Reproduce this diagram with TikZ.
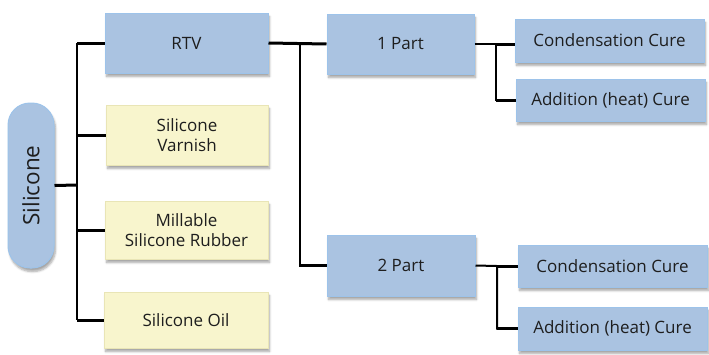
\documentclass[tikz,border=0pt]{standalone}
\usepackage{fontspec}
\setmainfont{Open Sans}
\usepackage{tikz}
\usetikzlibrary{positioning, calc, shadows, shadows.blur}
\definecolor{boxblue}{HTML}{AAC3E1}
\definecolor{edgeblue}{HTML}{9DC3EA}
\definecolor{boxyellow}{HTML}{F8F5CD}
\definecolor{edgeyellow}{HTML}{E9E5B6}
\definecolor{textgrey}{HTML}{1E1E1E}
\tikzset{
    bluebox/.style={rectangle, draw=edgeblue, line width=1pt, fill=boxblue, text=textgrey, inner sep=0pt, align=center, font=\fontsize{17}{20.5}\selectfont, blur shadow={shadow xshift=1.5pt, shadow yshift=-3.5pt, shadow opacity=35, shadow blur steps=6}},
    yellowbox/.style={bluebox, draw=edgeyellow, fill=boxyellow},
    pill/.style={bluebox, rounded corners=22pt, font=\fontsize{22.5}{26}\selectfont},
    stub/.style={line width=3pt, black},
    trunk/.style={line width=2pt, black}
}
\begin{document}
\begin{tikzpicture}[x=1pt, y=-1pt]
        \useasboundingbox (0,0) rectangle (709,354);
        % Root
        \node (silicone) [pill, minimum width=165pt, minimum height=46pt, rotate=90] at (31, 185.5) {Silicone};
        
        % First level
        \node (rtv) [bluebox, minimum width=163pt, minimum height=60pt] at (186.5, 43) {RTV};
        \node (varnish) [yellowbox, minimum width=162pt, minimum height=60pt] at (187, 135) {Silicone\\Varnish};
        \node (rubber) [yellowbox, minimum width=163pt, minimum height=58pt] at (186.5, 230) {Millable\\Silicone Rubber};
        \node (oil) [yellowbox, minimum width=164pt, minimum height=56pt] at (186, 320) {Silicone Oil};
        
        % RTV types
        \node (part1) [bluebox, minimum width=147pt, minimum height=60pt] at (400.5, 44) {1 Part};
        \node (part2) [bluebox, minimum width=148pt, minimum height=61pt] at (401, 265.5) {2 Part};
        
        % Cure types
        \node (cc1) [bluebox, minimum width=189pt, minimum height=43pt] at (609.5, 40.5) {Condensation Cure};
        \node (ac1) [bluebox, minimum width=189pt, minimum height=42pt] at (610.5, 100) {Addition (heat) Cure};
        \node (cc2) [bluebox, minimum width=189pt, minimum height=42pt] at (612.5, 266) {Condensation Cure};
        \node (ac2) [bluebox, minimum width=189pt, minimum height=43pt] at (612.5, 328.5) {Addition (heat) Cure};
        
        % Branch points
        \coordinate (t1) at (77, 185);
        \coordinate (t2) at (300, 44);
        \coordinate (t3) at (496, 44);
        \coordinate (t4) at (497, 266);
        
        % Connectors
        \draw[stub] (silicone.south) -- (t1);
        \draw[trunk] (t1 |- rtv.west) -- (t1 |- oil.west);
        \draw[stub] (t1 |- rtv.west) -- (rtv.west);
        \draw[stub] (t1 |- varnish.west) -- (varnish.west);
        \draw[stub] (t1 |- rubber.west) -- (rubber.west);
        \draw[stub] (t1 |- oil.west) -- (oil.west);
        
        \draw[stub] (rtv.east) -- (part1.west);
        \draw[trunk] (t2) |- (part2.west);
        \draw[stub] (t2 |- part2.west) -- (part2.west);
        
        \draw[trunk] (part1.east) -- (t3) |- (ac1.west);
        \draw[stub] (t3) -- (t3 -| cc1.west);
        \draw[stub] (t3 |- ac1.west) -- (ac1.west);
        
        \draw[trunk] (part2.east) -- (t4) |- (ac2.west);
        \draw[stub] (t4) -- (t4 -| cc2.west);
        \draw[stub] (t4 |- ac2.west) -- (ac2.west);
    \end{tikzpicture}
\end{document}
